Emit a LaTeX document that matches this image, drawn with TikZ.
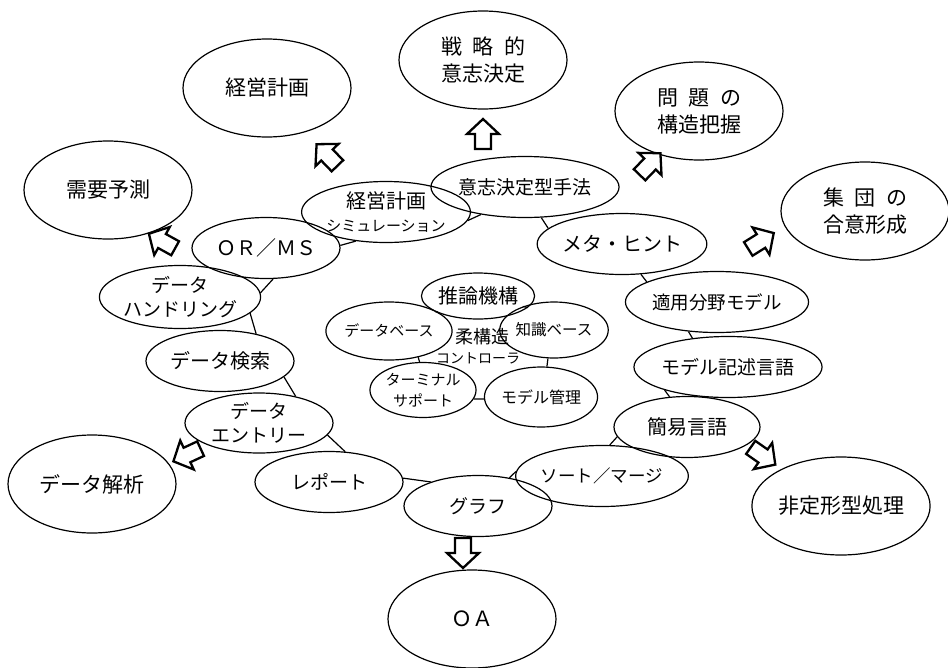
\documentclass[tikz,border=0pt]{standalone}
\usepackage{fontspec}
\setmainfont{Noto Sans CJK JP}
\usetikzlibrary{shapes.geometric}
\tikzset{
  base/.style={ellipse, draw, line width=1.2pt, inner sep=0pt, align=center},
  outer/.style={base, minimum width=168pt, minimum height=98pt, font=\fontsize{21}{27}\selectfont},
  ring/.style={base, minimum width=148pt, minimum height=61pt, font=\fontsize{19}{24}\selectfont},
  core/.style={base, minimum width=98pt, minimum height=56pt, font=\fontsize{16}{20}\selectfont},
  link/.style={line width=1.2pt},
  fatarrow/.style={line width=2.3pt, line join=miter, fill=white}
}
\newcommand\blockarrow[4]{%
  \coordinate (#1) at (#2,#3);
  \draw[fatarrow, shift={(#1)}, rotate=#4] (-15,-8) -- (0,-8) -- (0,-16) -- (15,0) -- (0,16) -- (0,8) -- (-15,8) -- cycle;
}
\begin{document}
\begin{tikzpicture}[x=1pt, y=-1pt]
\useasboundingbox (0,0) rectangle (948,667);

% outer ellipses
\node[outer] (senryaku) at (483,60) {戦\hspace{0.5em}略\hspace{0.5em}的\\意志決定};
\node[outer] (keiei) at (267,88) {経営計画};
\node[outer] (juyou) at (108,190) {需要予測};
\node[outer] (mondai) at (699,111) {問\hspace{0.5em}題\hspace{0.5em}の\\構造把握};
\node[outer] (shudan) at (865,211) {集\hspace{0.5em}団\hspace{0.5em}の\\合意形成};
\node[outer] (kaiseki) at (92,484) {データ解析};
\node[outer] (hitei) at (841,506) {非定形型処理};
\node[outer] (oa) at (472,619) {ＯＡ};

% ring
\node[ring, font=\fontsize{20}{24}\selectfont] (orms) at (266,248) {ＯＲ／ＭＳ};
\node[ring, font=\fontsize{20}{23}\selectfont] (sim) at (386,212) {経営計画\\\fontsize{15}{18}\selectfont シミュレーション};
\node[ring] (ishi) at (525,187) {意志決定型手法};
\node[ring, font=\fontsize{20}{24}\selectfont] (meta) at (622,244) {メタ・ヒント};
\node[ring, font=\fontsize{18.5}{24}\selectfont] (tekiyou) at (717,302) {適用分野モデル};
\node[ring, minimum width=146pt] (kijutsu) at (728,367) {モデル記述言語};
\node[ring, minimum width=146pt, font=\fontsize{20}{24}\selectfont] (kani) at (687,427) {簡易言語};
\node[ring, font=\fontsize{17.5}{24}\selectfont] (sort) at (602,476) {ソート／マージ};
\node[ring] (graph) at (478,506) {グラフ};
\node[ring] (report) at (329,482) {レポート};
\node[ring, minimum height=60pt] (entry) at (259,423) {データ\\エントリー};
\node[ring, font=\fontsize{20}{24}\selectfont] (kensaku) at (220,361) {データ検索};
\node[ring, minimum height=63pt] (handling) at (180,297) {データ\\ハンドリング};

% core
\node[core, minimum width=100pt, minimum height=46pt, font=\fontsize{20}{24}\selectfont] (suiron) at (478,296) {推論機構};
\node[core, minimum width=95pt, minimum height=58pt, font=\fontsize{15}{18}\selectfont] (db) at (389,331) {データベース};
\node[core, minimum width=88pt, minimum height=56pt, font=\fontsize{15.5}{18}\selectfont] (chishiki) at (554,330) {知識ベース};
\node[core, minimum width=100pt, minimum height=55pt, font=\fontsize{15}{21}\selectfont] (terminal) at (423,390) {ターミナル\\サポート};
\node[core, minimum width=98pt, minimum height=60pt, font=\fontsize{16}{20}\selectfont] (model) at (541,397) {モデル管理};
\node[font=\fontsize{18}{20}\selectfont, inner sep=0pt] (juukouzou) at (482,337) {柔構造};
\node[font=\fontsize{14}{16}\selectfont, inner sep=0pt] (controller) at (478,358) {コントローラ};

% ring links
\draw[link] (orms.2) -- (sim.224);
\draw[link] (sim.-6) -- (ishi.212);
\draw[link] (ishi.-62) -- (meta.168);
\draw[link] (meta.-58) -- (tekiyou.164);
\draw[link] (tekiyou.-134) -- (kijutsu.141);
\draw[link] (kijutsu.200) -- (kani.120);
\draw[link] (kani.188) -- (sort.76);
\draw[link] (sort.177) -- (graph.42);
\draw[link] (graph.153) -- (report.3);
\draw[link] (report.62) -- (entry.-10);
\draw[link] (entry.36) -- (kensaku.-14);
\draw[link] (kensaku.37) -- (handling.-13);
\draw[link] (handling.3) -- (orms.-77);

% core links
\draw[link] (suiron.200) -- (db.21);
\draw[link] (suiron.-13) -- (chishiki.143);
\draw[link] (db.-42) -- (terminal.97);
\draw[link] (chishiki.258) -- (model.79);
\draw[link] (terminal.-10) -- (model.182);

% block arrows
\blockarrow{a1}{483}{134}{90}
\blockarrow{a2}{327}{155}{134}
\blockarrow{a3}{162}{241}{151}
\blockarrow{a4}{650}{164}{46}
\blockarrow{a5}{761}{241}{32}
\blockarrow{a6}{763}{456}{-35}
\blockarrow{a7}{463}{553}{-90}
\blockarrow{a8}{187}{455}{205}
\end{tikzpicture}
\end{document}
